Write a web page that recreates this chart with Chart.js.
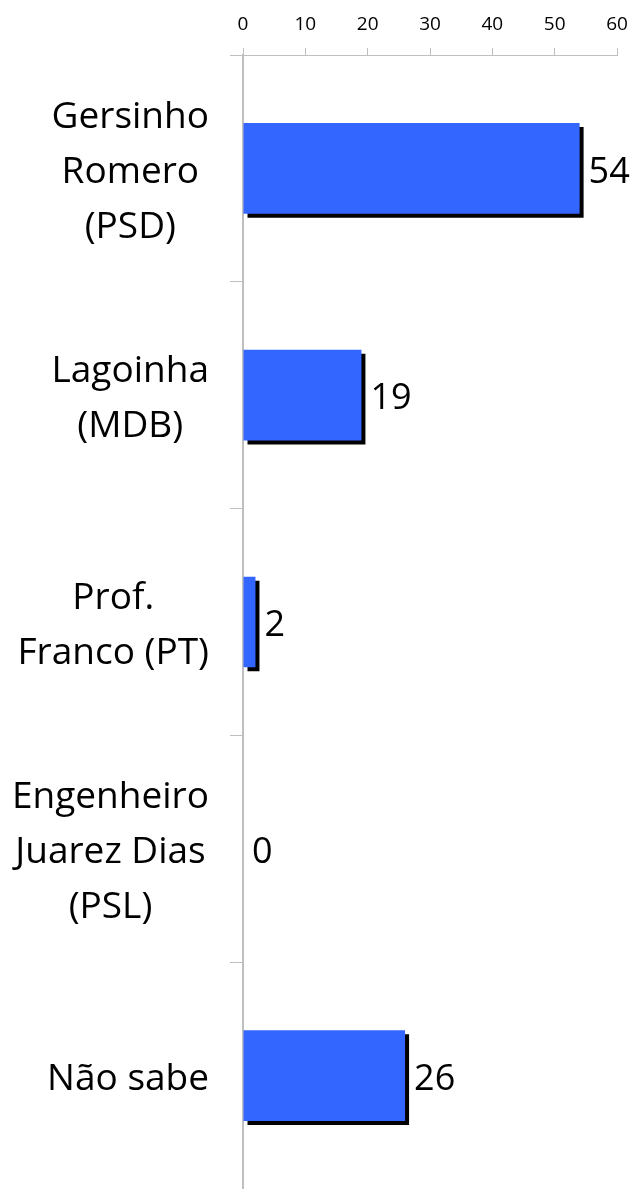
<!DOCTYPE html>
<html>
<head>
<meta charset="utf-8">
<script src="https://cdn.jsdelivr.net/npm/chart.js@4/dist/chart.umd.min.js"></script>
<style>
  html, body { margin: 0; padding: 0; background: #fff; }
  #wrap { width: 633px; height: 1189px; }
</style>
</head>
<body>
<div id="wrap"><canvas id="chart"></canvas></div>
<script>
// ── Datos ─────────────────────────────────────────────────────────────────────
const categorias = [
    ['Gersinho', 'Romero', '(PSD)'],
    ['Lagoinha', '(MDB)'],
    ['Prof.', 'Franco (PT)'],
    ['Engenheiro', 'Juarez Dias', '(PSL)'],
    ['Não sabe']
];
const valores = [54, 19, 2, 0, 26];
const ejeMin = 0;
const ejeMax = 60;
const ejePaso = 10;

const AZUL = '#3366ff';
const GRIS = '#bfbfbf';
const FUENTE = '"Open Sans", Calibri, sans-serif';

// sombra negra desplazada bajo las barras
const sombraBarras = {
    id: 'sombraBarras',
    beforeDatasetDraw(chart) {
        const c = chart.ctx;
        c.save();
        c.shadowColor = '#000';
        c.shadowOffsetX = 4;
        c.shadowOffsetY = 4;
        c.shadowBlur = 0;
    },
    afterDatasetDraw(chart) {
        chart.ctx.restore();
    }
};

// etiquetas de valor a la derecha de cada barra
const etiquetasValor = {
    id: 'etiquetasValor',
    afterDatasetsDraw(chart) {
        const c = chart.ctx;
        const meta = chart.getDatasetMeta(0);
        c.save();
        c.font = '36px ' + FUENTE;
        c.fillStyle = '#000';
        c.textAlign = 'left';
        c.textBaseline = 'middle';
        meta.data.forEach((bar, i) => {
            c.fillText(String(valores[i]), bar.x + 9, bar.y + 4);
        });
        c.restore();
    }
};

// categorías: bloque alineado a la derecha, líneas centradas dentro del bloque
const etiquetasCategoria = {
    id: 'etiquetasCategoria',
    afterDraw(chart) {
        const c = chart.ctx;
        const y = chart.scales.y;
        const bordeDer = 209;
        const alto = 55;
        c.save();
        c.font = '37px ' + FUENTE;
        c.fillStyle = '#000';
        c.textAlign = 'center';
        c.textBaseline = 'middle';
        categorias.forEach((lineas, i) => {
            const ancho = Math.max(...lineas.map(l => c.measureText(l).width));
            const cx = bordeDer - ancho / 2;
            const cy = y.getPixelForTick(i) + 4;
            lineas.forEach((l, j) => {
                c.fillText(l, cx, cy + (j - (lineas.length - 1) / 2) * alto);
            });
        });
        c.restore();
    }
};

// sin relleno automático de las escalas: el área queda fija
function sinPadding(s) {
    s.paddingTop = 0;
    s.paddingBottom = 0;
    s.paddingLeft = 0;
    s.paddingRight = 0;
}

new Chart(document.getElementById('chart'), {
    type: 'bar',
    data: {
        labels: categorias,
        datasets: [{
            data: valores,
            backgroundColor: AZUL,
            borderWidth: 0,
            barPercentage: 0.8,
            categoryPercentage: 0.5
        }]
    },
    options: {
        indexAxis: 'y',
        responsive: true,
        maintainAspectRatio: false,
        animation: false,
        layout: { padding: { left: 0, right: 16, top: 0, bottom: 0 } },
        plugins: {
            legend: { display: false },
            tooltip: { enabled: false }
        },
        scales: {
            x: {
                position: 'top',
                min: ejeMin,
                max: ejeMax,
                ticks: {
                    stepSize: ejePaso,
                    color: '#000',
                    padding: 12,
                    font: { family: FUENTE, size: 19 }
                },
                grid: { drawOnChartArea: false, color: GRIS, tickLength: 7 },
                border: { color: GRIS, width: 1 },
                afterFit: (s) => { s.height = 55; sinPadding(s); }
            },
            y: {
                ticks: { display: false },
                grid: { drawOnChartArea: false, color: GRIS, tickLength: 13 },
                border: { color: GRIS, width: 2 },
                afterFit: (s) => { s.width = 243; sinPadding(s); }
            }
        }
    },
    plugins: [sombraBarras, etiquetasValor, etiquetasCategoria]
});
</script>
</body>
</html>
